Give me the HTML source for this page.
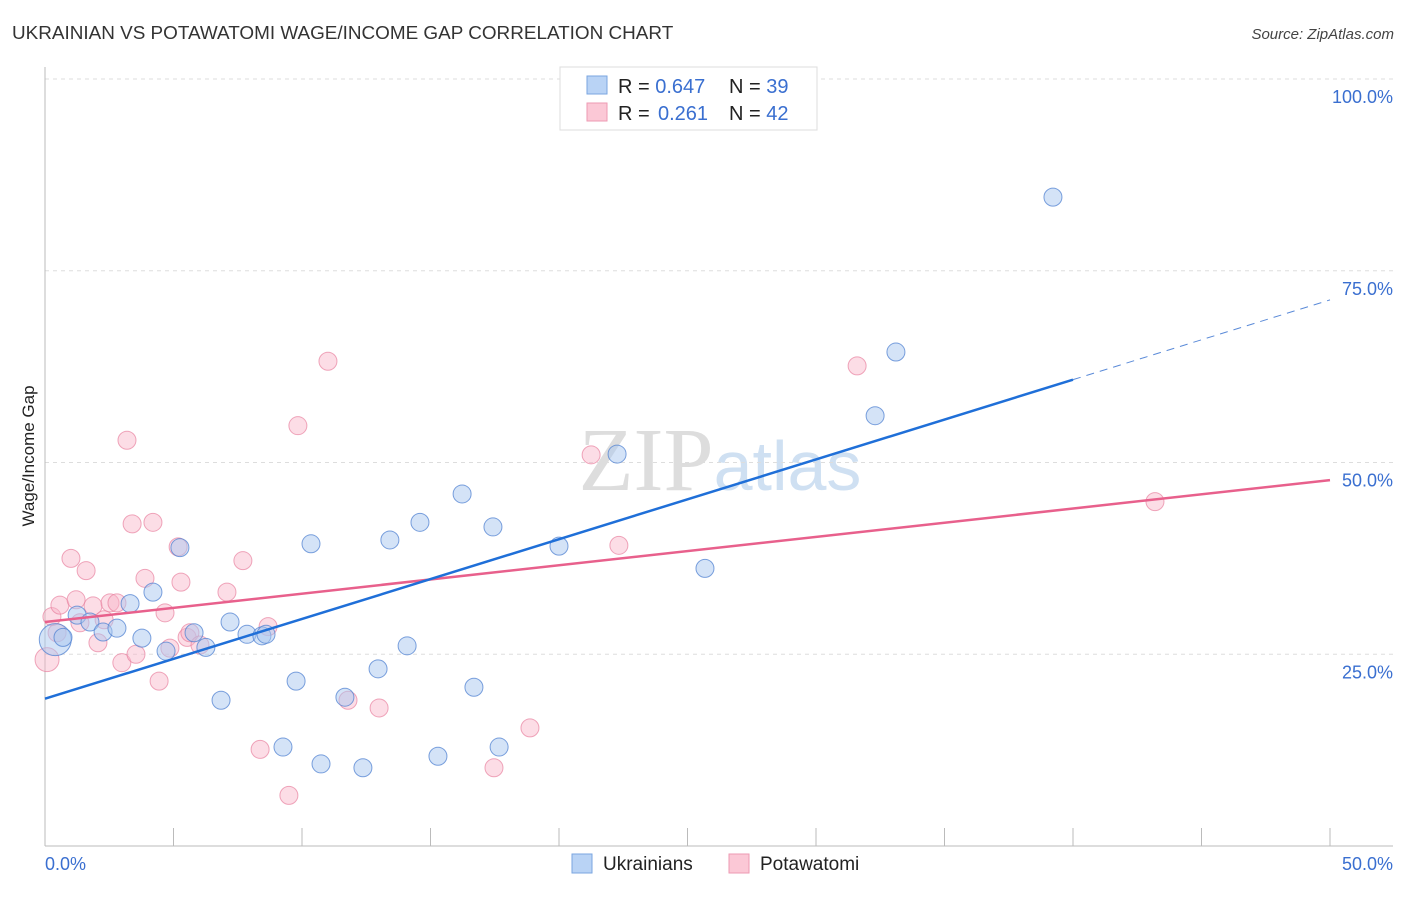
<!DOCTYPE html>
<html><head><meta charset="utf-8"><style>
body{margin:0;background:#fff;width:1406px;height:892px;overflow:hidden;font-family:"Liberation Sans",sans-serif}
</style></head><body>
<svg id="chart" width="1406" height="892" xmlns="http://www.w3.org/2000/svg" font-family="Liberation Sans, sans-serif">
<text x="12" y="39" font-size="18.9" fill="#333">UKRAINIAN VS POTAWATOMI WAGE/INCOME GAP CORRELATION CHART</text>
<text x="1394" y="39" font-size="15" fill="#444" text-anchor="end" font-style="italic">Source: ZipAtlas.com</text>
<text x="720" y="490" font-size="90" fill="#ddd" text-anchor="middle" font-family="Liberation Serif, serif">ZIP<tspan fill="#cfe0f2" font-family="Liberation Sans, sans-serif" font-size="70">atlas</tspan></text>
<text transform="translate(34,456) rotate(-90)" font-size="17" fill="#222" text-anchor="middle">Wage/Income Gap</text>
<g id="grid"></g>
<g id="lines"></g>
<g id="points"></g>
<g>
<rect x="560" y="67" width="257" height="63" fill="#fff" stroke="#ddd"/>
<rect x="587" y="76" width="20" height="18" fill="#b9d3f5" stroke="#7aa6e0"/>
<rect x="587" y="103" width="20" height="18" fill="#fbc8d6" stroke="#ee9ab3"/>
<text x="618" y="93" font-size="20" fill="#222">R = <tspan fill="#3a6fd0">0.647</tspan><tspan x="729">N = </tspan><tspan fill="#3a6fd0">39</tspan></text>
<text x="618" y="120" font-size="20" fill="#222">R = <tspan x="658" fill="#3a6fd0">0.261</tspan><tspan x="729">N = </tspan><tspan fill="#3a6fd0">42</tspan></text>
</g>
<g>
<rect x="572" y="854" width="20" height="19" fill="#b9d3f5" stroke="#7aa6e0"/>
<text x="603" y="870" font-size="19" fill="#222">Ukrainians</text>
<rect x="729" y="854" width="20" height="19" fill="#fbc8d6" stroke="#ee9ab3"/>
<text x="760" y="870" font-size="19" fill="#222">Potawatomi</text>
</g>
<text x="45" y="870" font-size="18" fill="#3a6fd0">0.0%</text>
<text x="1393" y="870" font-size="18" fill="#3a6fd0" text-anchor="end">50.0%</text>
</svg>
<script>
const yTicks=[25,50,75,100];
const yTickLabels=["25.0%","50.0%","75.0%","100.0%"];
const xTicks=[0,5,10,15,20,25,30,35,40,45,50];
const ukrX=[0.4,0.7,1.25,1.75,2.26,2.8,3.31,3.77,4.2,4.71,5.25,5.8,6.26,6.85,7.2,7.86,8.44,8.6,9.26,9.77,10.35,10.74,11.67,12.37,12.96,13.42,14.09,14.59,15.29,16.23,16.69,17.43,17.67,20.0,22.26,25.68,32.3,33.11,39.22];
const ukrY=[26.9,27.2,30.1,29.2,27.9,28.4,31.6,27.1,33.1,25.4,38.9,27.8,25.9,19.0,29.2,27.6,27.4,27.6,12.9,21.5,39.4,10.7,19.4,10.2,23.1,39.9,26.1,42.2,11.7,45.9,20.7,41.6,12.9,39.1,51.1,36.2,56.1,64.4,84.6];
const potX=[0.08,0.27,0.47,0.58,1.01,1.21,1.36,1.6,1.87,2.06,2.3,2.53,2.8,2.99,3.19,3.39,3.54,3.89,4.2,4.44,4.67,4.86,5.18,5.29,5.53,5.64,6.03,7.08,7.7,8.37,8.68,9.49,9.84,11.01,11.79,13.0,17.47,18.87,21.25,22.33,31.6,43.19];
const potY=[24.3,29.9,27.8,31.4,37.5,32.1,29.1,35.9,31.3,26.5,29.5,31.7,31.7,23.9,52.9,42.0,25.0,34.9,42.2,21.5,30.4,25.8,39.0,34.4,27.2,27.8,26.2,33.1,37.2,12.6,28.6,6.6,54.8,63.2,19.0,18.0,10.2,15.4,51.0,39.2,62.6,44.9];
const ukrTrend=[19.2,71.2];
const potTrend=[29.2,47.7];
const NS="http://www.w3.org/2000/svg";
const X=v=>45+v/50*1285;
const Y=v=>846-v/100*767;
function mk(tag,attrs,parent){const e=document.createElementNS(NS,tag);for(const k in attrs)e.setAttribute(k,attrs[k]);parent.appendChild(e);return e;}
const grid=document.getElementById('grid');
yTicks.forEach((t,i)=>{
 const l=mk('line',{x1:45,x2:1393,y1:Y(t),y2:Y(t),stroke:'#ddd','stroke-dasharray':'4,4'},grid);
 
 
 const tx=mk('text',{x:1393,y:Y(t)+24,'font-size':18,fill:'#3a6fd0','text-anchor':'end'},grid);
 tx.textContent=yTickLabels[i];
 
 
});
const ax=mk('line',{x1:45,x2:45,y1:67,y2:846,stroke:'#bbb'},grid);


const bx=mk('line',{x1:45,x2:1393,y1:846,y2:846,stroke:'#bbb'},grid);


xTicks.forEach(t=>{
 const l=mk('line',{x1:X(t),x2:X(t),y1:828,y2:846,stroke:'#bbb'},grid);
 
 
});
const pts=document.getElementById('points');
potX.forEach((x,i)=>{
 const c=mk('circle',{cx:X(x),cy:Y(potY[i]),r:i==0?12:9,fill:'rgba(248,180,200,0.45)',stroke:'rgba(232,130,160,0.7)','stroke-width':1},pts);
 
 
});
ukrX.forEach((x,i)=>{
 const c=mk('circle',{cx:X(x),cy:Y(ukrY[i]),r:i==0?16:9,fill:'rgba(170,200,240,0.5)',stroke:'rgba(80,130,210,0.75)','stroke-width':1},pts);
 
 
});
const at=(tr,x)=>tr[0]+(tr[1]-tr[0])*x/50;
const pl=mk('line',{x1:X(0),y1:Y(potTrend[0]),x2:X(50),y2:Y(potTrend[1]),stroke:'#e8608c','stroke-width':2.5},pts);


const ul=mk('line',{x1:X(0),y1:Y(ukrTrend[0]),x2:X(40),y2:Y(at(ukrTrend,40)),stroke:'#1f6fd8','stroke-width':2.5},pts);


const ud=mk('line',{x1:X(40),y1:Y(at(ukrTrend,40)),x2:X(50),y2:Y(ukrTrend[1]),stroke:'#5a8ad8','stroke-width':1,'stroke-dasharray':'8,6'},pts);


</script>
</body></html>
